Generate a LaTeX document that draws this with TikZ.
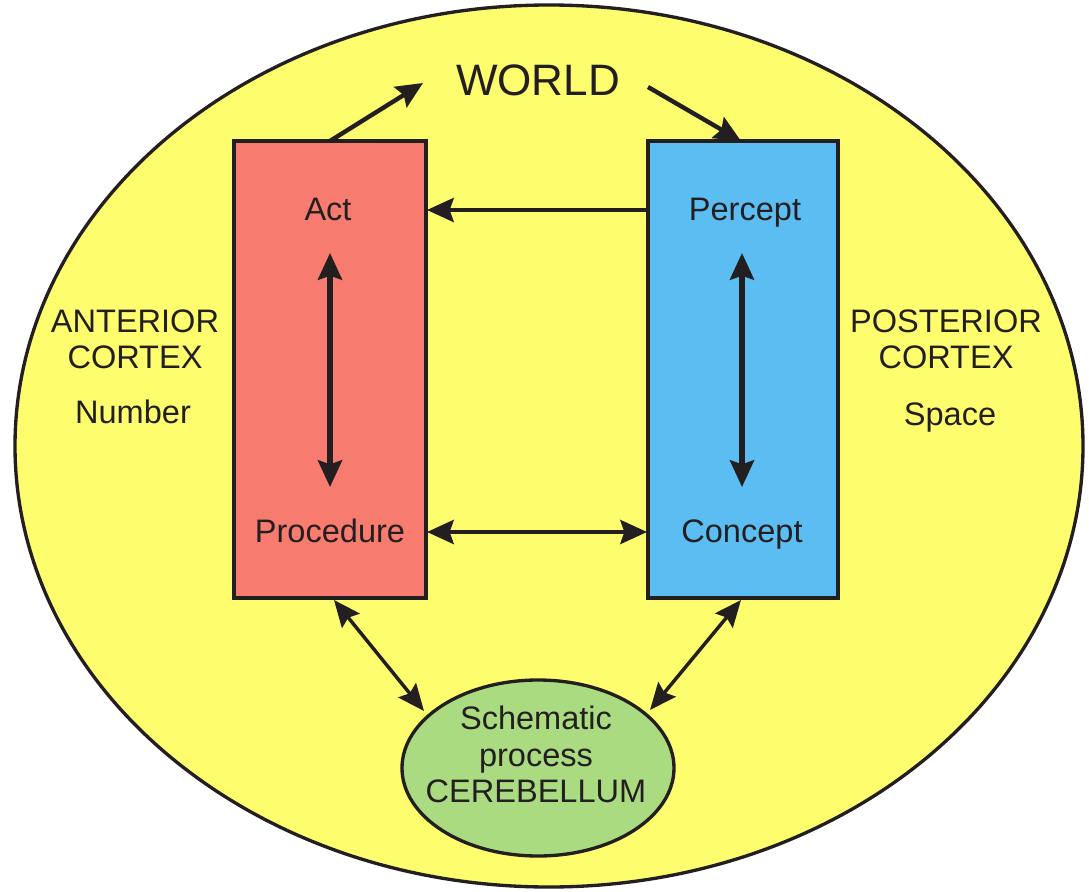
\documentclass[tikz,border=0pt]{standalone}
\usepackage{fontspec}
\setmainfont{Liberation Sans}
\usetikzlibrary{arrows.meta,shapes.geometric}
\definecolor{ink}{HTML}{231F20}
\definecolor{bgyellow}{HTML}{FDFD6E}
\definecolor{actred}{HTML}{F77B6E}
\definecolor{perblue}{HTML}{5BBDF2}
\definecolor{cergreen}{HTML}{ABDB80}
\tikzset{
  lbl/.style={font=\fontsize{24.4}{29}\selectfont, text=ink, inner sep=0pt, align=center, anchor=base},
  boxnode/.style={draw=ink, line width=3pt, inner sep=0pt},
  conn/.style={draw=ink, line width=3.3pt, -{Stealth[length=20pt,width=18pt,inset=3pt]}},
  dconn/.style={draw=ink, line width=3.3pt, {Stealth[length=20pt,width=18pt,inset=3pt]}-{Stealth[length=20pt,width=18pt,inset=3pt]}},
  thinconn/.style={draw=ink, line width=2.6pt, {Stealth[length=20pt,width=17pt,inset=3pt]}-{Stealth[length=20pt,width=17pt,inset=3pt]}},
}
\begin{document}
\begin{tikzpicture}[x=0.75pt,y=-0.75pt]
\useasboundingbox (0,0) rectangle (1089,892);
% big ellipse
\node[ellipse, draw=ink, line width=2.5pt, fill=bgyellow, minimum width=1068*0.75pt, minimum height=882*0.75pt, inner sep=0pt] (brain) at (549,446) {};
% boxes
\node[boxnode, fill=actred, minimum width=192*0.75pt, minimum height=457*0.75pt] (red) at (330,369.5) {};
\node[boxnode, fill=perblue, minimum width=190*0.75pt, minimum height=457*0.75pt] (blue) at (743,369.5) {};
\node[ellipse, draw=ink, line width=2.5pt, fill=cergreen, minimum width=272*0.75pt, minimum height=176*0.75pt, inner sep=0pt] (cer) at (538,768) {};
% texts (placed by baseline)
\node[lbl, font=\fontsize{33}{38}\selectfont] (world) at (538,96) {WORLD};
\node[lbl] (act) at (328,220) {Act};
\node[lbl] (percept) at (745,220) {Percept};
\node[lbl] (proc) at (330,542) {Procedure};
\node[lbl] (concept) at (742,542) {Concept};
\node[lbl] (ant) at (135,332) {ANTERIOR};
\node[lbl] (antc) at (135,368) {CORTEX};
\node[lbl] (num) at (133,423) {Number};
\node[lbl] (post) at (946,332) {POSTERIOR};
\node[lbl] (postc) at (946,368) {CORTEX};
\node[lbl] (space) at (950,425) {Space};
\node[lbl] (sch) at (536,729) {Schematic};
\node[lbl] (pro) at (536,766) {process};
\node[lbl] (cerb) at (536,802) {CEREBELLUM};
% anchors for connectors
\coordinate (redtop) at (330,141);
\coordinate (worldin) at (423,83);
\coordinate (worldout) at (648,87);
\coordinate (bluetop) at (741,141);
\coordinate (pl) at (648,210);
\coordinate (ar) at (427,210);
\coordinate (a1) at (330,253);
\coordinate (a2) at (330,487);
\coordinate (b1) at (742,253);
\coordinate (b2) at (742,487);
\coordinate (h1) at (427,532);
\coordinate (h2) at (647,532);
\coordinate (d1) at (334,600);
\coordinate (d2) at (424,711);
\coordinate (e1) at (741,600);
\coordinate (e2) at (650,710);
% connectors
\draw[conn] (redtop) -- (worldin);
\draw[conn] (worldout) -- (bluetop);
\draw[conn] (pl) -- (ar);
\draw[dconn, line width=3.8pt] (a1) -- (a2);
\draw[dconn, line width=3.8pt] (b1) -- (b2);
\draw[dconn, line width=3pt] (h1) -- (h2);
\draw[thinconn] (d1) -- (d2);
\draw[thinconn] (e1) -- (e2);
\end{tikzpicture}
\end{document}
